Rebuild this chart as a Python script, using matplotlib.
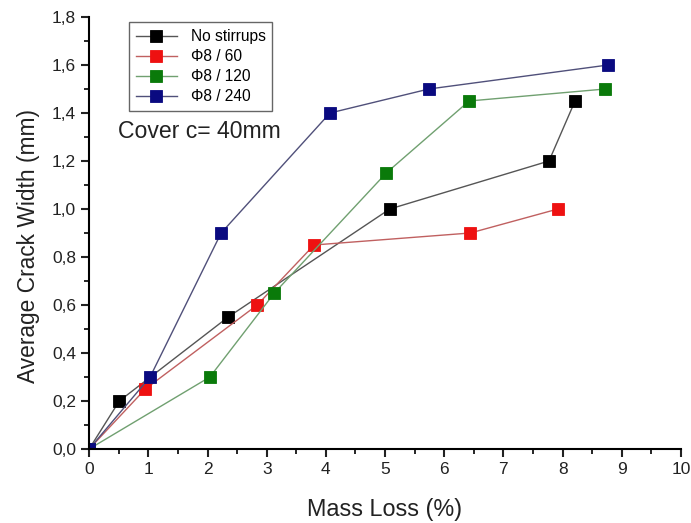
import matplotlib.pyplot as plt
from matplotlib.ticker import FuncFormatter, MultipleLocator

plt.rcParams['font.family'] = ['Liberation Sans', 'DejaVu Sans']

# data
x_none = [0, 0.51, 2.35, 5.08, 7.77, 8.21]
y_none = [0, 0.2, 0.55, 1.0, 1.2, 1.45]
x_60 = [0, 0.95, 2.84, 3.80, 6.44, 7.92]
y_60 = [0, 0.25, 0.6, 0.85, 0.9, 1.0]
x_120 = [0, 2.04, 3.13, 5.02, 6.42, 8.72]
y_120 = [0, 0.3, 0.65, 1.15, 1.45, 1.5]
x_240 = [0, 1.03, 2.23, 4.07, 5.74, 8.77]
y_240 = [0, 0.3, 0.9, 1.4, 1.5, 1.6]

series = [
    (x_none, y_none, 'No stirrups', '#000000', '#555555'),
    (x_60, y_60, '\u03a68 / 60', '#ee1111', '#c06060'),
    (x_120, y_120, '\u03a68 / 120', '#0a7a0a', '#70a070'),
    (x_240, y_240, '\u03a68 / 240', '#0a0a80', '#50507a'),
]

fig = plt.figure(figsize=(6.91, 5.23), dpi=100)
ax = fig.add_axes([0.129, 0.1415, 0.8565, 0.826])

for xs, ys, lab, mc, lc in series:
    ax.plot(xs, ys, color=lc, lw=1.0, marker='s', markersize=8,
            markerfacecolor=mc, markeredgecolor=mc, markeredgewidth=0.6,
            label=lab)

ax.set_xlim(0, 10)
ax.set_ylim(0, 1.8)
ax.xaxis.set_major_locator(MultipleLocator(1))
ax.xaxis.set_minor_locator(MultipleLocator(0.5))
ax.yaxis.set_major_locator(MultipleLocator(0.2))
ax.yaxis.set_minor_locator(MultipleLocator(0.1))
ax.yaxis.set_major_formatter(FuncFormatter(lambda v, p: f'{v:.1f}'.replace('.', ',')))

ax.spines['top'].set_visible(False)
ax.spines['right'].set_visible(False)
ax.spines['left'].set_linewidth(1.5)
ax.spines['bottom'].set_linewidth(1.5)
ax.tick_params(which='major', direction='out', length=6, width=1.5, labelsize=12.5, colors='#222222')
ax.tick_params(which='minor', direction='out', length=3.5, width=1.2)

ax.set_xlabel('Mass Loss (%)', fontsize=16.8, labelpad=15, color='#222222')
ax.set_ylabel('Average Crack Width (mm)', fontsize=16.4, color='#222222')
ax.yaxis.set_label_coords(-0.083, 0.47)

leg = ax.legend(loc='upper left', bbox_to_anchor=(0.0676, 0.988), borderaxespad=0,
                fontsize=11.2, fancybox=False, framealpha=1, edgecolor='#666666',
                handlelength=2.6, handletextpad=0.9, borderpad=0.45, labelspacing=0.32)
leg.get_frame().set_linewidth(1.0)

ax.text(0.049, 0.72, 'Cover c= 40mm', transform=ax.transAxes, fontsize=16.6,
        color='#222222', va='baseline')

fig.savefig('out.png', dpi=100)
